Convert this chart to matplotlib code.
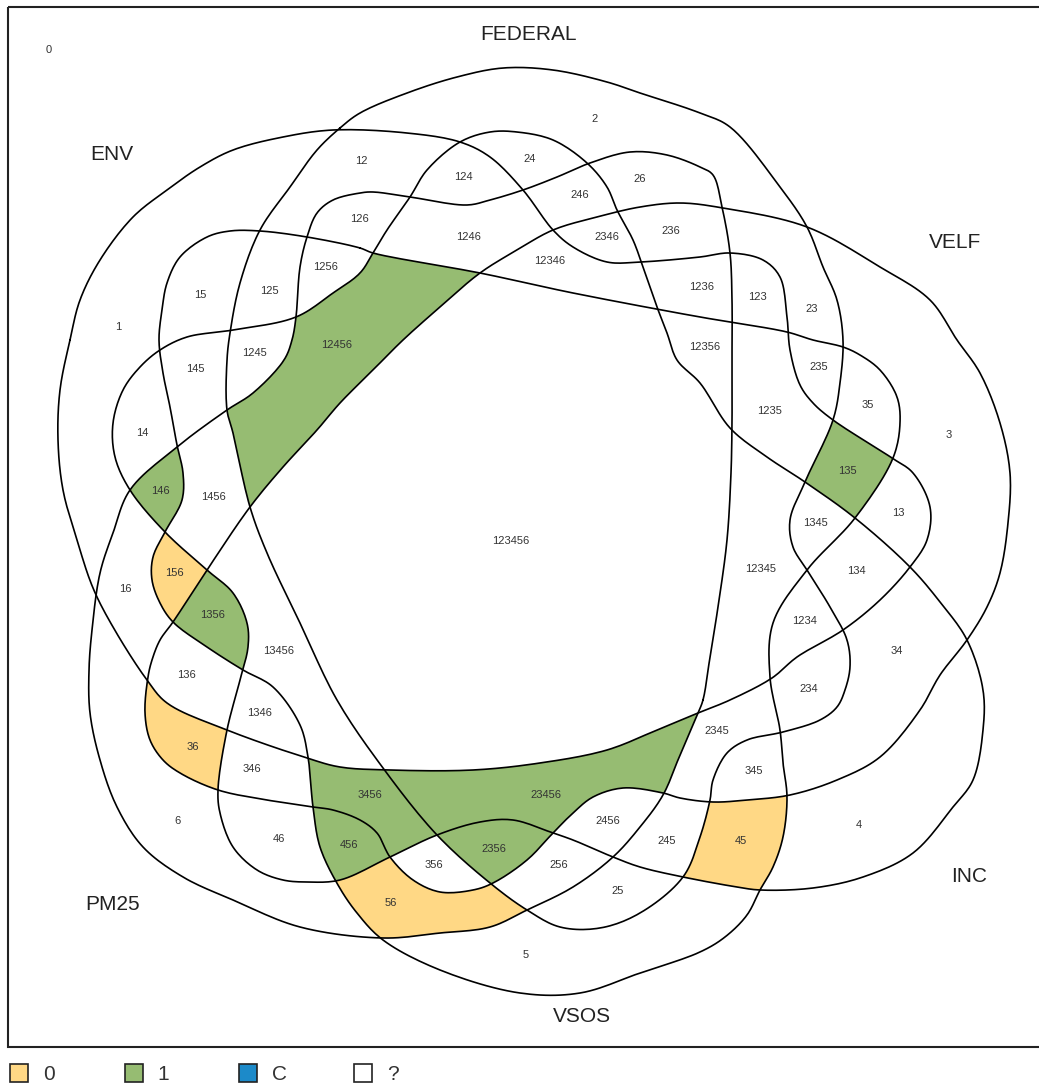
import numpy as np
import matplotlib
matplotlib.use("Agg")
import matplotlib.pyplot as plt
from matplotlib.path import Path
from matplotlib.patches import Rectangle
from matplotlib.colors import to_rgba
from itertools import combinations

plt.rcParams['font.family'] = ['Liberation Sans', 'DejaVu Sans']

# sets, in the order of the digits used in the region labels
set_names = ["ENV", "FEDERAL", "VELF", "INC", "VSOS", "PM25"]

# truth table outcome of each configuration (unlisted = "?")
outcome_1 = ["12456", "135", "146", "1356", "3456", "456", "2356", "23456"]
outcome_0 = ["156", "36", "56", "45"]
outcome_c = []

legend_labels = ["0", "1", "C", "?"]
legend_colors = ["#ffd885", "#96bc72", "#1c8ac9", "#ffffff"]

# outline template of the 6-set diagram (pixel space of the canvas)
env_outline = [(70, 340), (80, 300), (100, 260), (133, 217), (167, 190), (200, 167), (233, 150),
               (283, 137), (333, 130), (407, 133), (460, 142), (490, 157), (523, 190), (553, 230),
               (573, 247), (607, 262), (640, 262), (700, 257), (730, 253), (763, 260), (780, 277),
               (787, 317), (790, 350), (800, 385), (813, 403), (833, 420), (892, 458), (913, 473),
               (930, 507), (927, 540), (910, 567), (880, 600), (843, 630), (797, 657), (772, 678),
               (730, 700), (698, 713), (657, 730), (607, 750), (540, 763), (473, 770), (390, 770),
               (340, 767), (307, 758), (227, 730), (167, 703), (147, 680), (113, 627), (93, 588),
               (77, 540), (63, 490), (58, 440), (60, 390)]
fed_outline = [(340, 128), (360, 113), (407, 93), (457, 77), (503, 68), (553, 70), (607, 82),
               (640, 93), (700, 113), (730, 127), (780, 187), (807, 227), (823, 267), (837, 300),
               (843, 340), (840, 383), (833, 420), (805, 482), (790, 520), (793, 547), (807, 570),
               (830, 607), (847, 640), (850, 667), (845, 690), (837, 707), (820, 720), (783, 732),
               (747, 740), (727, 753), (713, 780), (710, 800), (700, 837), (683, 877), (640, 913),
               (600, 928), (560, 927), (527, 910), (490, 883), (437, 835), (383, 768), (337, 700),
               (300, 623), (267, 553), (250, 507), (233, 433), (227, 410), (227, 360), (230, 333),
               (240, 283), (260, 230), (290, 187), (317, 150)]
velf_outline = [(250, 507), (283, 467), (317, 430), (340, 403), (373, 370), (403, 340), (440, 307),
                (480, 273), (517, 250), (553, 230), (597, 217), (640, 207), (680, 203), (723, 208),
                (807, 227), (880, 267), (930, 300), (957, 340), (980, 373), (1000, 423), (1010, 473),
                (1008, 523), (1000, 573), (987, 607), (967, 640), (940, 675), (920, 710), (880, 757),
                (837, 780), (790, 795), (747, 800), (713, 802), (680, 798), (663, 793), (623, 788),
                (593, 797), (573, 813), (553, 833), (527, 860), (493, 883), (473, 890), (440, 892),
                (413, 880), (390, 857), (377, 833), (360, 820), (333, 810), (313, 807), (267, 800),
                (218, 790), (180, 773), (163, 760), (150, 740), (145, 713), (148, 677), (152, 660),
                (160, 640), (173, 622), (207, 570)]
inc_outline = [(373, 253), (387, 230), (410, 197), (427, 170), (460, 142), (490, 132), (517, 132),
               (553, 140), (587, 163), (607, 187), (617, 210), (633, 240), (643, 267), (657, 307),
               (667, 333), (677, 360), (700, 383), (730, 428), (767, 457), (805, 482), (855, 518),
               (910, 567), (940, 602), (967, 640), (983, 690), (983, 730), (973, 780), (953, 807),
               (913, 853), (863, 877), (813, 888), (760, 890), (737, 887), (683, 877), (640, 867),
               (613, 857), (573, 840), (553, 833), (513, 820), (480, 822), (437, 835), (390, 857),
               (340, 880), (307, 882), (283, 880), (257, 870), (233, 847), (220, 813), (218, 790),
               (227, 730), (240, 680), (248, 647), (247, 623), (233, 593), (207, 570), (165, 532),
               (130, 490), (115, 457), (113, 423), (123, 390), (140, 367), (160, 350), (187, 337),
               (233, 330), (296, 317), (333, 293), (360, 273)]
vsos_outline = [(360, 248), (373, 253), (480, 273), (573, 293), (700, 317), (730, 322), (787, 332),
                (813, 340), (843, 347), (860, 355), (880, 370), (897, 397), (900, 423), (893, 458),
                (855, 518), (807, 570), (773, 623), (770, 677), (780, 730), (783, 763), (787, 797),
                (783, 837), (773, 867), (760, 890), (747, 915), (725, 937), (700, 952), (640, 973),
                (580, 993), (520, 993), (440, 970), (383, 940), (357, 913), (338, 885), (320, 847),
                (313, 807), (308, 757), (300, 725), (273, 687), (243, 670), (207, 647), (173, 622),
                (160, 603), (152, 580), (153, 557), (165, 532), (182, 500), (183, 473), (177, 445),
                (170, 407), (163, 373), (159, 340), (162, 310), (167, 283), (180, 257), (207, 237),
                (230, 231), (260, 231), (307, 237)]
pm_outline = [(703, 700), (698, 713), (680, 755), (663, 795), (640, 827), (613, 857), (573, 887),
              (527, 910), (490, 927), (440, 933), (383, 938), (300, 927), (233, 900), (183, 877),
              (143, 847), (117, 807), (100, 760), (90, 713), (89, 670), (92, 630), (100, 573),
              (113, 533), (130, 490), (177, 447), (227, 410), (253, 393), (284, 360), (292, 340),
              (296, 317), (300, 267), (307, 237), (317, 213), (333, 200), (360, 193), (373, 192),
              (410, 197), (467, 205), (490, 200), (523, 190), (557, 177), (590, 163), (630, 152),
              (667, 155), (700, 167), (713, 175), (722, 207), (730, 253), (732, 300), (732, 360),
              (732, 423), (731, 473), (727, 540), (718, 607), (710, 657)]
outlines = [env_outline, fed_outline, velf_outline, inc_outline, vsos_outline, pm_outline]

name_pos = {"ENV": (112, 155), "FEDERAL": (528, 35), "VELF": (955, 243),
            "INC": (969, 877), "VSOS": (582, 1016), "PM25": (113, 904)}

W, H = 1039, 1089


def smooth(pts, n=12):
    # closed centripetal catmull-rom through the outline points
    P = np.asarray(pts, float)
    N = len(P)
    out = []
    for i in range(N):
        p0, p1, p2, p3 = P[i - 1], P[i], P[(i + 1) % N], P[(i + 2) % N]
        t0 = 0.0
        t1 = t0 + np.linalg.norm(p1 - p0) ** 0.5
        t2 = t1 + np.linalg.norm(p2 - p1) ** 0.5
        t3 = t2 + np.linalg.norm(p3 - p2) ** 0.5
        t = np.linspace(t1, t2, n, endpoint=False)[:, None]
        a1 = (t1 - t) / (t1 - t0) * p0 + (t - t0) / (t1 - t0) * p1
        a2 = (t2 - t) / (t2 - t1) * p1 + (t - t1) / (t2 - t1) * p2
        a3 = (t3 - t) / (t3 - t2) * p2 + (t - t2) / (t3 - t2) * p3
        b1 = (t2 - t) / (t2 - t0) * a1 + (t - t0) / (t2 - t0) * a2
        b2 = (t3 - t) / (t3 - t1) * a2 + (t - t1) / (t3 - t1) * a3
        out.append((t2 - t) / (t2 - t1) * b1 + (t - t1) / (t2 - t1) * b2)
    return np.vstack(out)


def region_code(label):
    return sum(1 << (int(ch) - 1) for ch in label)


def label_point(mask):
    # last pixels left after repeated erosion = middle of the widest part
    ys, xs = np.nonzero(mask)
    y0, x0 = ys.min(), xs.min()
    m = np.pad(mask[y0:ys.max() + 1, x0:xs.max() + 1], 1)
    prev = m
    step = 0
    while m.any():
        prev = m
        e = m.copy()
        e[1:, :] &= m[:-1, :]
        e[:-1, :] &= m[1:, :]
        e[:, 1:] &= m[:, :-1]
        e[:, :-1] &= m[:, 1:]
        if step % 2:
            # alternate with diagonal neighbours -> rounder erosion
            e[1:, 1:] &= m[:-1, :-1]
            e[:-1, :-1] &= m[1:, 1:]
            e[1:, :-1] &= m[:-1, 1:]
            e[:-1, 1:] &= m[1:, :-1]
        m = e
        step += 1
    yy, xx = np.nonzero(prev)
    k = np.argmin((yy - yy.mean()) ** 2 + (xx - xx.mean()) ** 2)
    return x0 + xx[k] - 0.5, y0 + yy[k] - 0.5


fig = plt.figure(figsize=(W / 100, H / 100), dpi=100)
ax = fig.add_axes([0, 0, 1, 1])

gx, gy = np.meshgrid(np.arange(W) + 0.5, np.arange(H) + 0.5)
pts = np.column_stack([gx.ravel(), gy.ravel()])
code = np.zeros(W * H, dtype=int)
curves = []
for k, outline in enumerate(outlines):
    c = smooth(outline)
    curves.append(c)
    code |= Path(c).contains_points(pts).astype(int) << k
code = code.reshape(H, W)

rgba = np.zeros((H, W, 4))
for labels, col in [(outcome_0, legend_colors[0]), (outcome_1, legend_colors[1]),
                    (outcome_c, legend_colors[2])]:
    for lab in labels:
        rgba[code == region_code(lab)] = to_rgba(col)
ax.imshow(rgba, extent=(0, W, H, 0), interpolation='nearest', zorder=1, aspect='auto')

for c in curves:
    ax.plot(np.r_[c[:, 0], c[0, 0]], np.r_[c[:, 1], c[0, 1]], color='black', lw=1.2, zorder=3)

# region labels
digits = "123456"
for r in range(1, 7):
    for combo in combinations(digits, r):
        lab = "".join(combo)
        mask = code == region_code(lab)
        if mask.sum() < 20:
            continue
        x, y = label_point(mask)
        ax.text(x, y, lab, fontsize=8, ha='center', va='center', color='#333333', zorder=4)

# plot frame, the empty set label and the set names
ax.add_patch(Rectangle((8, 7), 1040, 1040, fill=False, lw=1.5, edgecolor='#222222', zorder=5))
ax.text(8 + 41, 7 + 43, "0", fontsize=8, ha='center', va='center', color='#333333')
for name in set_names:
    x, y = name_pos[name]
    ax.text(x, y, name, fontsize=15, ha='center', va='center', color='#222222')

# legend
for i, (lab, col) in enumerate(zip(legend_labels, legend_colors)):
    x = 10 + i * 114.7
    ax.add_patch(Rectangle((x, 1064), 18, 18, facecolor=col, edgecolor='#222222', lw=1.2))
    ax.text(x + 33, 1075, lab, fontsize=15, ha='left', va='center', color='#333333')

ax.set_xlim(0, W)
ax.set_ylim(H, 0)
ax.axis('off')
fig.savefig("out.png", dpi=100)
